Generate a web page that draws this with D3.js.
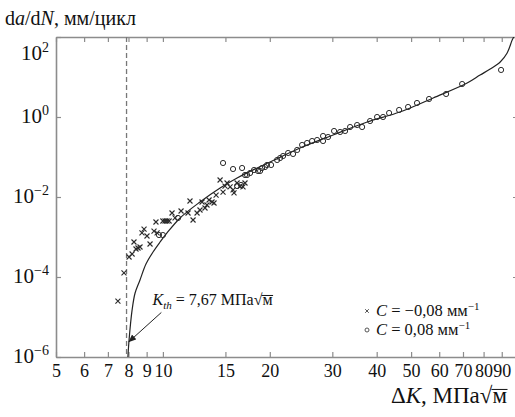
<!DOCTYPE html>
<html><head><meta charset="utf-8">
<script src="https://cdn.jsdelivr.net/npm/d3@7/dist/d3.min.js"></script>
<style>
body{margin:0;background:#fff}
svg{display:block}
svg text{font-family:"Liberation Serif","Times New Roman",serif !important;fill:#111}
</style>
</head><body>
<svg id="c" width="515" height="417" font-family="Liberation Serif, serif"></svg>
<script>
// ---------- data ----------
const xTickValues = [5,6,7,8,9,10,15,20,30,40,50,60,70,80,90];
const xTickLabels = ["5","6","7","8","9","10","15","20","30","40","50","60","70","80","90"];
const yTickValues = [1e-6,1e-4,1e-2,1,1e2];
const yTickExponents = ["−6","−4","−2","0","2"];

// fitted curve
const curveK    = [7.97,8.03,8.19,8.35,8.62,8.96,9.38,9.82,10.27,11.18,12.72,14.49,16.18,18.42,20.04,24.34,30.15,37.6,46.5,57.7,71.9,78.2,83.5,89.1,93.2,96.3,97.3];
const curveRate = [1e-6,2.66e-6,1.5e-5,3.98e-5,8.41e-5,2.11e-4,4.22e-4,7.5e-4,1.26e-3,2.99e-3,7.5e-3,1.68e-2,2.99e-2,5.31e-2,7.5e-2,1.68e-1,3.55e-1,7.5e-1,1.33,2.99,7.08,11.2,15.8,23.7,39.8,84.1,100];

// C = -0.08 mm^-1 (crosses)
const crossK    = [7.47,7.77,8.03,8.19,8.29,8.40,8.51,8.62,8.73,8.85,9.02,9.20,9.44,9.56,9.63,10.0,10.14,10.27,10.41,10.61,10.82,11.25,11.77,11.92,12.16,12.48,12.72,12.89,13.14,13.31,13.49,13.75,13.93,14.12,14.49,14.77,14.96,15.16,15.46,15.76,15.86,16.18,16.49,16.81,17.03];
const crossRate = [2.5e-5,1.26e-4,3.16e-4,3.76e-4,7.5e-4,5.01e-4,5.31e-4,5.62e-4,1.26e-3,1.58e-3,1.06e-3,6.68e-4,1.41e-3,2.37e-3,1.26e-3,2.51e-3,2.51e-3,2.51e-3,2.51e-3,3.98e-3,2.99e-3,4.47e-3,3.98e-3,7.94e-3,2.66e-3,3.98e-3,4.73e-3,7.5e-3,5.31e-3,6.31e-3,8.41e-3,7.5e-3,7.08e-3,1.12e-2,2.66e-2,1.33e-2,1.88e-2,2.24e-2,1.78e-2,1.5e-2,1.26e-2,2.24e-2,1.88e-2,1.78e-2,2.24e-2];

// C = 0.08 mm^-1 (circles)
const circleK    = [9.75,10.0,11.03,14.77,15.76,16.71,16.18,16.6,17.03,17.26,17.60,18.06,18.53,18.78,19.02,19.39,19.64,20.17,20.97,21.38,21.80,22.52,23.26,23.88,24.66,25.47,26.31,27.18,28.25,28.25,29.18,30.34,31.55,32.59,33.66,35.23,36.39,38.32,40.10,41.69,43.35,46.26,49.03,51.95,56.17,62.74,69.61,89.6];
const circleRate = [1.12e-3,1.12e-3,2.99e-3,7.08e-2,5.01e-2,5.31e-2,1.88e-2,2.0e-2,3.55e-2,3.55e-2,3.98e-2,4.73e-2,4.47e-2,4.47e-2,5.31e-2,5.62e-2,6.31e-2,6.31e-2,8.41e-2,9.44e-2,1.06e-1,1.26e-1,1.19e-1,1.5e-1,2.0e-1,2.24e-1,2.51e-1,2.66e-1,3.35e-1,2.51e-1,3.16e-1,4.47e-1,4.22e-1,4.47e-1,5.62e-1,6.31e-1,5.62e-1,7.94e-1,1.0,1.0,1.26,1.5,1.78,2.24,2.82,3.76,6.68,15.0];

const thresholdLineK = 7.9;
const legendLabels = ["−0,08","0,08"];

// ---------- chart ----------
const svg = d3.select("#c");
const L=56, R=518, T=37, B=357;
const x = d3.scaleLog().domain([5,100]).range([L,R]);
const y = d3.scaleLog().domain([1e-6,1e2]).range([B,T]);
const axisColor = "#8c8c8c";
const FONT = "Liberation Serif, Times New Roman, serif";

svg.append("defs").append("clipPath").attr("id","plot")
  .append("rect").attr("x",L).attr("y",T).attr("width",R-L).attr("height",B-T);

// axes
const gB = svg.append("g").attr("transform",`translate(0,${B})`)
  .call(d3.axisBottom(x).tickValues(xTickValues).tickSizeInner(-5).tickSizeOuter(0).tickPadding(7)
    .tickFormat((d,i)=>xTickLabels[i]));
gB.selectAll("text").style("font-size","18px").attr("fill","#111").style("font-family",FONT);
const gT = svg.append("g").attr("transform",`translate(0,${T})`)
  .call(d3.axisTop(x).tickValues(xTickValues).tickSizeInner(-5).tickSizeOuter(0).tickFormat(""));
const gL = svg.append("g").attr("transform",`translate(${L},0)`)
  .call(d3.axisLeft(y).tickValues(yTickValues).tickSizeInner(-5).tickSizeOuter(0).tickFormat(""));
const gR = svg.append("g").attr("transform",`translate(${R},0)`)
  .call(d3.axisRight(y).tickValues(yTickValues).tickSizeInner(-5).tickSizeOuter(0).tickFormat(""));
[gB,gT,gL,gR].forEach(g=>{
  g.select(".domain").attr("stroke",axisColor).attr("stroke-width",1.6);
  g.selectAll(".tick line").attr("stroke",axisColor).attr("stroke-width",1.2);
  g.attr("font-family",FONT);
});

// y labels
yTickValues.forEach((v,i)=>{
  const off = (v===1e2) ? 23 : 6;
  const t = svg.append("text").attr("x",49).attr("y",y(v)+off)
    .attr("text-anchor","end").style("font-size","21px").style("font-family",FONT);
  t.append("tspan").text("10");
  t.append("tspan").attr("dy",-8).style("font-size","14px").text(yTickExponents[i]);
});

// threshold dashed line
svg.append("line").attr("x1",x(thresholdLineK)).attr("x2",x(thresholdLineK))
  .attr("y1",T).attr("y2",B).attr("stroke","#777").attr("stroke-width",1.3)
  .attr("stroke-dasharray","5,3");

// curve
const curveData = curveK.map((k,i)=>[k,curveRate[i]]);
svg.append("path").datum(curveData).attr("clip-path","url(#plot)")
  .attr("d",d3.line().x(d=>x(d[0])).y(d=>y(d[1])).curve(d3.curveCatmullRom.alpha(0.5)))
  .attr("fill","none").attr("stroke","#222").attr("stroke-width",1.2);

// crosses
const crossPath = "M-2.5,-2.5L2.5,2.5M-2.5,2.5L2.5,-2.5";
svg.append("g").selectAll("path").data(crossK.map((k,i)=>[k,crossRate[i]])).join("path")
  .attr("d",crossPath).attr("transform",d=>`translate(${x(d[0])},${y(d[1])})`)
  .attr("stroke","#2a2a2a").attr("stroke-width",1.1).attr("fill","none");
// circles
svg.append("g").selectAll("circle").data(circleK.map((k,i)=>[k,circleRate[i]])).join("circle")
  .attr("cx",d=>x(d[0])).attr("cy",d=>y(d[1])).attr("r",2.6)
  .attr("stroke","#2a2a2a").attr("stroke-width",1).attr("fill","none");

// annotation arrow
svg.append("defs").append("marker").attr("id","ah").attr("viewBox","0 0 10 10")
  .attr("refX",9).attr("refY",5).attr("markerWidth",8).attr("markerHeight",8).attr("orient","auto")
  .attr("markerUnits","userSpaceOnUse")
  .append("path").attr("d","M0,1L10,5L0,9Z").attr("fill","#222");
svg.append("line").attr("x1",x(9.9)).attr("y1",y(1.3e-5)).attr("x2",x(8.02)).attr("y2",y(2.4e-6))
  .attr("stroke","#222").attr("stroke-width",1).attr("marker-end","url(#ah)");

function sqrtText(sel, xPos, yPos, size, anchor, parts){
  const t = sel.append("text").attr("x",xPos).attr("y",yPos).attr("text-anchor",anchor)
    .style("font-size",size+"px").style("font-family",FONT);
  parts.forEach(p=>{
    const s = t.append("tspan").text(p.t);
    if(p.i) s.style("font-style","italic");
    if(p.sub) s.attr("dy",p.sub).style("font-size",p.fs+"px");
    if(p.back) s.attr("dy",p.back);
  });
  const node = t.node();
  const n = node.getNumberOfChars();
  const e = node.getExtentOfChar(n-1);
  const r = node.getExtentOfChar(n-2);
  const yTop = e.y + size*0.28;
  sel.append("line").attr("x1",r.x+r.width-1).attr("x2",e.x+e.width+0.5)
    .attr("y1",yTop).attr("y2",yTop).attr("stroke","#111").attr("stroke-width",1);
  return t;
}

// Kth label
sqrtText(svg, x(9.35), 305, 16, "start", [
  {t:"K",i:true},{t:"th",i:true,sub:4,fs:11},{t:" = 7,67 МПа",back:-4},{t:"√м"}
]);

// title
const title = svg.append("text").attr("x",5).attr("y",25).style("font-size","20px").style("font-family",FONT);
title.append("tspan").text("d");
title.append("tspan").text("a").style("font-style","italic");
title.append("tspan").text("/d");
title.append("tspan").text("N").style("font-style","italic");
title.append("tspan").text(", мм/цикл");

// x label
sqrtText(svg, 507, 403, 23, "end", [
  {t:"Δ"},{t:"K",i:true},{t:", МПа√м"}
]);

// legend
const lg = svg.append("g");
const legY = [311,330];
lg.append("path").attr("d","M-1.8,-1.8L1.8,1.8M-1.8,1.8L1.8,-1.8")
  .attr("transform",`translate(367,${legY[0]})`).attr("stroke","#555").attr("fill","none");
lg.append("circle").attr("cx",367).attr("cy",legY[1]).attr("r",2).attr("stroke","#555").attr("fill","none");
legendLabels.forEach((lab,i)=>{
  const t = lg.append("text").attr("x",376).attr("y",legY[i]+5).style("font-size","16.5px").style("font-family",FONT);
  t.append("tspan").text("C").style("font-style","italic");
  t.append("tspan").text(" = "+lab+" мм");
  t.append("tspan").attr("dy",-6).style("font-size","11px").text("−1");
});
</script>
</body></html>
